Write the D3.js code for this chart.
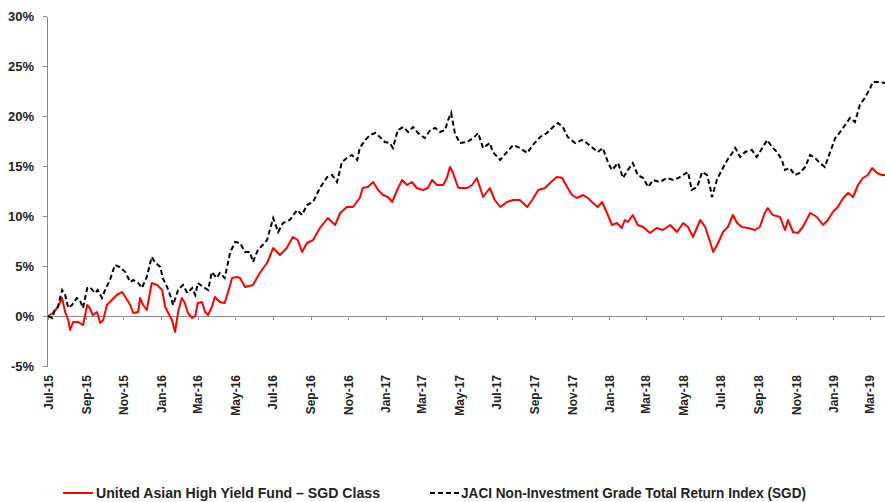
<!DOCTYPE html>
<meta charset="utf-8">
<style>
body { margin: 0; background: white; }
svg { display: block; font-family: "Liberation Sans", Arial, sans-serif; }
.axis path, .axis line { stroke: #8c8c8c; shape-rendering: crispEdges; }
.axis text { font-size: 13px; font-weight: bold; fill: #222; }
.x.axis text { font-size: 12px; }
.legend text { font-size: 14px; font-weight: bold; fill: #222; }
</style>
<body>
<svg width="885" height="502"></svg>
<script src="https://d3js.org/d3.v7.min.js"></script>
<script>

// United Asian High Yield Fund - SGD Class (cumulative return, %)
var fundDates = ["2015-07-01","2015-07-09","2015-07-17","2015-07-24","2015-07-29","2015-08-03","2015-08-06","2015-08-11","2015-08-19","2015-08-27",
  "2015-09-03","2015-09-07","2015-09-12","2015-09-19","2015-09-24","2015-09-29","2015-10-05","2015-10-13","2015-10-21","2015-10-30",
  "2015-11-04","2015-11-12","2015-11-17","2015-11-25","2015-11-28","2015-12-03","2015-12-09","2015-12-17","2015-12-26","2016-01-03",
  "2016-01-08","2016-01-13","2016-01-19","2016-01-24","2016-01-29","2016-02-04","2016-02-09","2016-02-14","2016-02-21","2016-02-26",
  "2016-03-01","2016-03-08","2016-03-13","2016-03-18","2016-03-24","2016-03-29","2016-04-06","2016-04-14","2016-04-19","2016-04-26",
  "2016-05-04","2016-05-09","2016-05-17","2016-05-30","2016-06-10","2016-06-22","2016-07-02","2016-07-13","2016-07-24","2016-08-03",
  "2016-08-11","2016-08-18","2016-08-26","2016-09-05","2016-09-16","2016-09-29","2016-10-11","2016-10-19","2016-10-30","2016-11-09",
  "2016-11-20","2016-11-25","2016-12-03","2016-12-12","2016-12-20","2016-12-28","2017-01-05","2017-01-12","2017-01-20","2017-01-28",
  "2017-02-05","2017-02-13","2017-02-21","2017-03-03","2017-03-11","2017-03-18","2017-03-26","2017-04-05","2017-04-11","2017-04-16",
  "2017-04-21","2017-04-29","2017-05-02","2017-05-14","2017-05-22","2017-05-30","2017-06-09","2017-06-20","2017-06-28","2017-07-07",
  "2017-07-18","2017-07-28","2017-08-08","2017-08-20","2017-08-28","2017-09-07","2017-09-18","2017-09-26","2017-10-07","2017-10-16",
  "2017-10-24","2017-11-01","2017-11-09","2017-11-19","2017-11-27","2017-12-05","2017-12-13","2017-12-20","2017-12-28","2018-01-05",
  "2018-01-13","2018-01-21","2018-01-26","2018-01-31","2018-02-08","2018-02-16","2018-02-25","2018-03-08","2018-03-19","2018-03-29",
  "2018-04-10","2018-04-21","2018-05-01","2018-05-09","2018-05-17","2018-05-29","2018-06-06","2018-06-14","2018-06-19","2018-06-27",
  "2018-07-05","2018-07-13","2018-07-21","2018-07-28","2018-08-05","2018-08-15","2018-08-26","2018-09-03","2018-09-11","2018-09-16",
  "2018-09-24","2018-10-06","2018-10-14","2018-10-19","2018-10-27","2018-11-04","2018-11-12","2018-11-24","2018-12-05","2018-12-15",
  "2018-12-23","2018-12-31","2019-01-08","2019-01-17","2019-01-25","2019-02-02","2019-02-10","2019-02-18","2019-02-26","2019-03-05",
  "2019-03-13","2019-03-21","2019-03-26"];
var fundValues = [0.0,0.3,0.9,1.8,0.4,-0.4,-1.4,-0.6,-0.6,-0.9,
  1.1,0.8,0.1,0.4,-0.7,-0.4,1.1,1.6,2.1,2.4,
  1.9,1.1,0.3,0.4,1.8,1.1,0.6,3.3,3.1,2.6,
  0.9,0.3,-0.4,-1.6,0.4,1.8,1.3,0.3,-0.2,0.0,
  1.3,1.4,0.4,0.1,0.9,1.9,1.4,1.3,2.3,3.8,
  3.9,3.8,2.9,3.1,4.3,5.3,6.8,6.1,6.8,7.9,
  7.6,6.4,7.3,7.6,8.8,9.8,9.1,10.3,10.9,10.9,
  11.8,12.8,12.9,13.4,12.6,12.1,11.9,11.4,12.6,13.6,
  13.1,13.4,12.8,12.6,12.8,13.6,13.1,13.1,13.8,14.9,
  14.3,12.9,12.8,12.8,13.1,13.8,11.9,12.8,11.6,10.9,
  11.4,11.6,11.6,10.9,11.6,12.6,12.8,13.3,13.9,13.8,
  12.9,12.1,11.8,12.1,11.8,11.3,10.9,11.4,10.3,9.1,
  9.3,8.8,9.6,9.4,10.1,9.1,8.9,8.3,8.8,8.6,
  9.1,8.4,9.3,8.9,7.9,9.6,8.9,7.4,6.4,7.3,
  8.4,8.9,10.1,9.3,8.9,8.8,8.6,8.9,10.3,10.8,
  10.1,9.9,8.6,9.6,8.4,8.3,8.9,10.3,9.9,9.1,
  9.6,10.4,10.9,11.8,12.3,11.9,13.1,13.8,14.1,14.8,
  14.3,14.1,14.1];

// JACI Non-Investment Grade Total Return Index (SGD) (cumulative return, %)
var indexDates = ["2015-07-01","2015-07-08","2015-07-12","2015-07-17","2015-07-24","2015-07-29","2015-08-03","2015-08-09","2015-08-17","2015-08-22",
  "2015-08-27","2015-09-03","2015-09-07","2015-09-16","2015-09-20","2015-09-27","2015-10-02","2015-10-10","2015-10-18","2015-10-26",
  "2015-11-04","2015-11-12","2015-11-17","2015-11-25","2015-12-01","2015-12-09","2015-12-17","2015-12-22","2015-12-31","2016-01-04",
  "2016-01-11","2016-01-16","2016-01-21","2016-01-29","2016-02-06","2016-02-13","2016-02-21","2016-02-26","2016-03-01","2016-03-10",
  "2016-03-18","2016-03-24","2016-04-01","2016-04-06","2016-04-14","2016-04-23","2016-05-01","2016-05-09","2016-05-17","2016-05-25",
  "2016-05-30","2016-06-07","2016-06-15","2016-06-22","2016-07-02","2016-07-10","2016-07-18","2016-07-29","2016-08-10","2016-08-18",
  "2016-08-26","2016-09-05","2016-09-16","2016-09-28","2016-10-06","2016-10-14","2016-10-22","2016-10-30","2016-11-07","2016-11-16",
  "2016-11-20","2016-11-29","2016-12-07","2016-12-15","2016-12-23","2016-12-31","2017-01-08","2017-01-13","2017-01-21","2017-01-30",
  "2017-02-07","2017-02-15","2017-02-23","2017-03-06","2017-03-15","2017-03-23","2017-03-31","2017-04-08","2017-04-13","2017-04-18",
  "2017-04-24","2017-05-02","2017-05-14","2017-05-24","2017-06-01","2017-06-09","2017-06-20","2017-06-25","2017-07-07","2017-07-18",
  "2017-07-28","2017-08-08","2017-08-20","2017-08-29","2017-09-10","2017-09-21","2017-10-01","2017-10-09","2017-10-17","2017-10-25",
  "2017-11-06","2017-11-17","2017-11-25","2017-12-05","2017-12-13","2017-12-21","2017-12-30","2018-01-05","2018-01-15","2018-01-23",
  "2018-01-31","2018-02-08","2018-02-16","2018-02-25","2018-03-05","2018-03-13","2018-03-24","2018-04-05","2018-04-15","2018-04-23",
  "2018-05-01","2018-05-09","2018-05-15","2018-05-24","2018-06-01","2018-06-09","2018-06-14","2018-06-17","2018-06-25","2018-07-03",
  "2018-07-12","2018-07-20","2018-07-25","2018-08-02","2018-08-10","2018-08-21","2018-08-29","2018-09-07","2018-09-15","2018-09-23",
  "2018-10-01","2018-10-09","2018-10-14","2018-10-22","2018-10-30","2018-11-07","2018-11-16","2018-11-24","2018-12-02","2018-12-10",
  "2018-12-18","2018-12-26","2019-01-04","2019-01-12","2019-01-20","2019-01-28","2019-02-05","2019-02-13","2019-02-21","2019-03-02",
  "2019-03-06","2019-03-15","2019-03-26"];
var indexValues = [0.0,-0.2,0.6,0.9,2.6,2.1,0.8,1.1,1.8,1.6,
  0.8,2.8,2.9,2.3,2.6,1.8,2.6,3.6,5.1,4.9,
  4.4,3.4,3.6,3.3,2.8,3.9,5.9,5.4,4.9,3.8,
  2.9,2.1,1.1,2.6,3.1,2.3,2.8,2.1,3.3,2.9,
  2.6,4.4,3.8,4.3,3.8,6.4,7.4,7.3,6.4,6.4,
  5.4,6.6,7.1,7.6,9.8,8.4,9.3,9.6,10.6,10.1,
  11.1,11.4,12.8,13.9,14.1,13.4,15.4,15.8,16.1,15.6,
  16.8,17.6,18.1,18.3,17.9,17.4,17.3,16.8,18.6,18.9,
  18.4,18.9,18.3,17.8,18.6,18.8,18.4,18.6,19.6,20.3,
  18.3,17.3,17.4,17.8,18.3,16.8,17.3,16.4,15.6,16.4,
  17.1,16.8,16.3,17.1,17.9,18.3,18.9,19.3,18.9,17.9,
  17.3,17.6,17.3,16.8,16.4,16.8,15.3,14.6,15.3,13.8,
  14.6,15.3,14.1,13.8,12.9,13.6,13.4,13.8,13.6,13.8,
  14.1,14.4,12.6,12.9,14.4,14.1,12.9,11.9,13.6,14.6,
  15.6,16.3,16.8,15.9,16.4,16.6,15.9,16.8,17.6,16.9,
  16.4,15.6,14.6,14.8,14.1,14.3,14.9,16.1,15.8,15.3,
  14.9,16.3,17.8,18.4,19.1,19.8,19.4,21.1,21.8,22.8,
  23.4,23.4,23.3];

var tickLabels = ["Jul-15","Sep-15","Nov-15","Jan-16","Mar-16","May-16","Jul-16","Sep-16","Nov-16","Jan-17","Mar-17","May-17",
  "Jul-17","Sep-17","Nov-17","Jan-18","Mar-18","May-18","Jul-18","Sep-18","Nov-18","Jan-19","Mar-19"];
var yTicks = [-5, 0, 5, 10, 15, 20, 25, 30];
var seriesNames = ["United Asian High Yield Fund \u2013 SGD Class", "JACI Non-Investment Grade Total Return Index (SGD)"];

var parseDate = d3.timeParse("%Y-%m-%d"),
    parseTick = d3.timeParse("%b-%y"),
    formatTick = d3.timeFormat("%b-%y");

var fund = fundDates.map(function(d, i) { return {date: parseDate(d), value: fundValues[i]}; });
var index = indexDates.map(function(d, i) { return {date: parseDate(d), value: indexValues[i]}; });

var svg = d3.select("svg");

var x = d3.scaleTime()
    .domain(d3.extent(fund, function(d) { return d.date; }))
    .range([48, 885]);

var y = d3.scaleLinear()
    .domain([-5, 30])
    .range([366, 16]);

// y axis
svg.append("g")
    .attr("class", "y axis")
    .attr("transform", "translate(47,0)")
    .call(d3.axisLeft(y).tickValues(yTicks).tickSize(4).tickPadding(9).tickSizeOuter(0)
      .tickFormat(function(d) { return d + "%"; }));

// x axis sits on the 0% line, labels are pushed below the plot
var xAxis = svg.append("g")
    .attr("class", "x axis")
    .attr("transform", "translate(0," + y(0) + ")")
    .call(d3.axisBottom(x).tickValues(tickLabels.map(parseTick)).tickSize(4).tickSizeOuter(0)
      .tickFormat(formatTick));

xAxis.select(".domain").attr("d", "M47,0H885");

xAxis.selectAll("text")
    .attr("x", 0)
    .attr("y", 0)
    .attr("dy", ".35em")
    .style("text-anchor", "end")
    .attr("transform", "translate(0," + (y(-5) - y(0) + 9) + ") rotate(-90)");

var line = d3.line()
    .x(function(d) { return x(d.date); })
    .y(function(d) { return y(d.value); });

svg.append("path")
    .datum(fund)
    .attr("fill", "none")
    .attr("stroke", "#ff0000")
    .attr("stroke-width", 2)
    .attr("stroke-linejoin", "round")
    .attr("d", line);

svg.append("path")
    .datum(index)
    .attr("fill", "none")
    .attr("stroke", "#000")
    .attr("stroke-width", 2)
    .attr("stroke-dasharray", "5,3")
    .attr("d", line);

// legend
var legend = svg.append("g").attr("class", "legend");

legend.append("line")
    .attr("x1", 63).attr("x2", 93)
    .attr("y1", 493).attr("y2", 493)
    .attr("stroke", "#ff0000")
    .attr("stroke-width", 2);

legend.append("text")
    .attr("x", 96).attr("y", 498)
    .attr("textLength", 284)
    .attr("lengthAdjust", "spacingAndGlyphs")
    .text(seriesNames[0]);

legend.append("line")
    .attr("x1", 430).attr("x2", 459)
    .attr("y1", 493).attr("y2", 493)
    .attr("stroke", "#000")
    .attr("stroke-width", 2)
    .attr("stroke-dasharray", "5,3");

legend.append("text")
    .attr("x", 461).attr("y", 498)
    .attr("textLength", 345)
    .attr("lengthAdjust", "spacingAndGlyphs")
    .text(seriesNames[1]);

</script>
</body>
